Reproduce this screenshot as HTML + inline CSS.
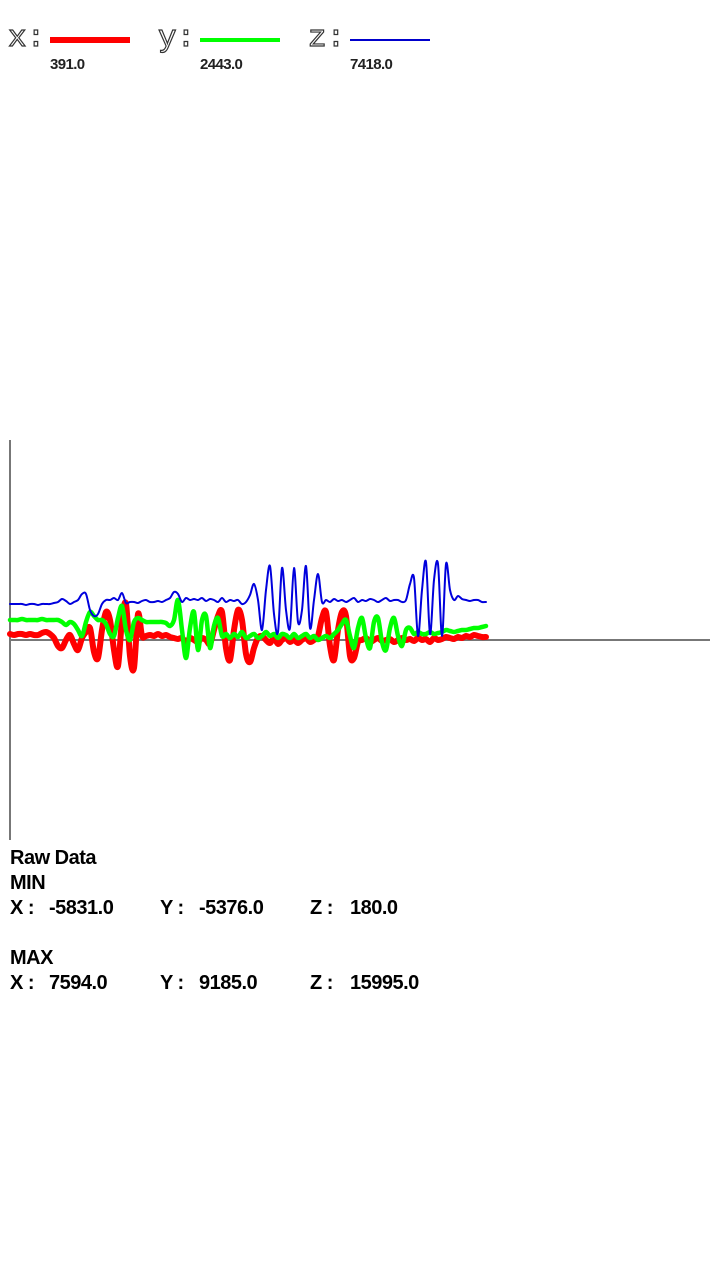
<!DOCTYPE html>
<html><head><meta charset="utf-8">
<style>
html,body{margin:0;padding:0;background:#fff;width:720px;height:1280px;overflow:hidden;font-family:"Liberation Sans",sans-serif;}
.lg{position:absolute;top:22px;font-family:"Liberation Mono","DejaVu Sans Mono",monospace;font-size:31px;color:#fff;-webkit-text-stroke:1.2px #333;line-height:34px;}
.lv{position:absolute;top:56px;font-size:15px;font-weight:bold;color:#222;letter-spacing:-0.6px;}
.t{position:absolute;font-size:20px;color:#000;font-weight:bold;line-height:24px;letter-spacing:-0.5px;}
</style></head><body>
<div class="lg" style="left:8px">x:</div>
<div style="position:absolute;left:50px;top:37px;width:80px;height:6px;background:#f00"></div>
<div class="lv" style="left:50px">391.0</div>
<div class="lg" style="left:158px">y:</div>
<div style="position:absolute;left:200px;top:38px;width:80px;height:4px;background:#0f0"></div>
<div class="lv" style="left:200px">2443.0</div>
<div class="lg" style="left:308px">z:</div>
<div style="position:absolute;left:350px;top:39px;width:80px;height:2px;background:#00c"></div>
<div class="lv" style="left:350px">7418.0</div>

<svg id="chart" width="720" height="1280" style="position:absolute;left:0;top:0">
<line x1="10" y1="440" x2="10" y2="840" stroke="#777" stroke-width="2"/>
<line x1="10" y1="640" x2="710" y2="640" stroke="#777" stroke-width="2"/>
</svg>

<div class="t" style="left:10px;top:846px">Raw Data</div>
<div class="t" style="left:10px;top:871px">MIN</div>
<div class="t" style="left:10px;top:896px">X :</div>
<div class="t" style="left:49px;top:896px">-5831.0</div>
<div class="t" style="left:160px;top:896px">Y :</div>
<div class="t" style="left:199px;top:896px">-5376.0</div>
<div class="t" style="left:310px;top:896px">Z :</div>
<div class="t" style="left:350px;top:896px">180.0</div>
<div class="t" style="left:10px;top:946px">MAX</div>
<div class="t" style="left:10px;top:971px">X :</div>
<div class="t" style="left:49px;top:971px">7594.0</div>
<div class="t" style="left:160px;top:971px">Y :</div>
<div class="t" style="left:199px;top:971px">9185.0</div>
<div class="t" style="left:310px;top:971px">Z :</div>
<div class="t" style="left:350px;top:971px">15995.0</div>

<script>
const zValues=[3600,3600,3600,3600,3500,3600,3600,3500,3600,3600,3600,3700,3800,4100,3900,3600,3800,4000,4600,4600,3000,2400,2600,3600,4000,4000,4200,4000,4700,3700,3800,3800,3700,3900,4000,3800,3800,3900,3800,4000,4200,4800,4600,3800,4200,4000,4100,4000,4200,3900,4100,4000,3800,4200,3800,4000,3900,4000,3600,3800,4500,5600,4000,1000,5000,7400,2600,800,7200,3000,1200,7200,1800,3000,7400,1200,4000,6600,3800,4000,3800,4100,3900,4000,3800,4000,4200,3800,4000,3900,4100,4000,3800,4000,4200,3900,4000,4000,3800,4000,5600,6200,400,5000,7800,600,6000,7600,400,7600,5000,4000,4400,4100,4000,3900,4000,4000,3800,3800];
const xValues=[600,500,600,600,500,600,500,500,700,800,600,200,-600,-800,0,500,-400,-1000,200,800,1200,-1200,-1800,1000,2800,2000,-1000,-2600,2000,3600,-1600,-2800,2600,400,400,500,400,600,400,500,300,200,100,200,-200,200,0,-200,200,0,-400,1000,2400,2800,-800,-2000,1000,3000,2000,-1400,-2200,-800,200,400,0,-300,200,-400,0,200,-200,0,-300,0,200,-200,0,400,2200,2800,-600,-2000,1000,2800,2400,-1600,-1800,-200,0,200,-200,0,200,-100,0,100,-200,0,200,0,100,-100,200,0,100,-200,200,0,100,300,200,100,300,200,400,300,500,400,300,300];
const yValues=[2000,2000,2000,2100,2000,2000,2000,2000,2100,2000,2000,2000,2000,1800,1500,1800,1600,1000,400,1800,2800,2400,2000,2000,1600,600,400,2200,3400,1000,0,1800,2200,2000,1800,1800,1800,1800,1800,1700,1400,2000,4000,1000,-1800,1200,2800,-1000,2000,2400,-800,1400,2200,400,600,200,600,300,800,200,400,600,200,400,800,400,600,200,600,500,200,600,200,400,600,200,400,0,200,400,200,600,1000,1600,2000,400,-800,1200,2200,200,-800,1800,2200,-200,-1000,1200,2200,400,-600,1000,1200,600,800,600,600,800,600,700,800,1000,900,800,900,1000,1000,1100,1200,1200,1300,1400];
const X0=10,X1=486,Y0=640,UNITS_PER_PX=100;
function xScale(i,n){return X0+(X1-X0)*i/(n-1);}
function yScale(v){return Y0-v/UNITS_PER_PX;}
const svg=document.getElementById('chart');
function draw(vals,color,w,name){
  const n=vals.length;
  const pts=vals.map((v,i)=>[xScale(i,n),yScale(v)]);
  let d='M'+pts[0][0].toFixed(1)+','+pts[0][1].toFixed(1);
  for(let i=0;i<n-1;i++){
    const p0=pts[Math.max(0,i-1)],p1=pts[i],p2=pts[i+1],p3=pts[Math.min(n-1,i+2)];
    const c1x=p1[0]+(p2[0]-p0[0])/6,c1y=p1[1]+(p2[1]-p0[1])/6;
    const c2x=p2[0]-(p3[0]-p1[0])/6,c2y=p2[1]-(p3[1]-p1[1])/6;
    d+='C'+c1x.toFixed(1)+','+c1y.toFixed(1)+' '+c2x.toFixed(1)+','+c2y.toFixed(1)+' '+p2[0].toFixed(1)+','+p2[1].toFixed(1);
  }
  const p=document.createElementNS('http://www.w3.org/2000/svg','path');
  p.setAttribute('d',d);p.setAttribute('fill','none');p.setAttribute('stroke',color);
  p.setAttribute('stroke-width',w);p.setAttribute('stroke-linejoin','round');p.setAttribute('stroke-linecap','round');
  
  
  svg.appendChild(p);
}
draw(xValues,'#f00',6,'series-x');
draw(yValues,'#0f0',4.5,'series-y');
draw(zValues,'#00d',2,'series-z');
</script>
</body></html>
